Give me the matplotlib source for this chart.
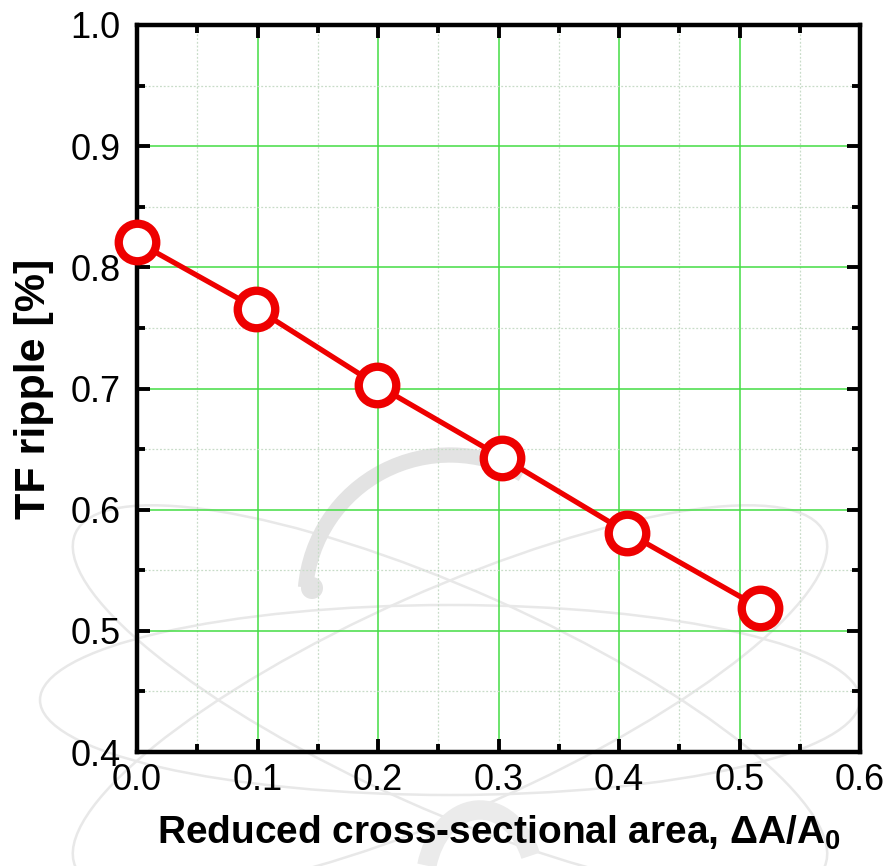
import matplotlib
matplotlib.use("Agg")
import matplotlib.pyplot as plt
from matplotlib.patches import Ellipse, Arc, Circle
from matplotlib.ticker import MultipleLocator

# Data
area_reduction = [0.0, 0.099, 0.199, 0.303, 0.407, 0.517]
tf_ripple = [0.821, 0.766, 0.703, 0.643, 0.581, 0.519]

x_ticks = [0.0, 0.1, 0.2, 0.3, 0.4, 0.5, 0.6]
y_ticks = [0.4, 0.5, 0.6, 0.7, 0.8, 0.9, 1.0]

plt.rcParams['font.family'] = ['Liberation Sans', 'DejaVu Sans']
plt.rcParams['mathtext.fontset'] = 'custom'
plt.rcParams['mathtext.rm'] = 'Liberation Sans'
plt.rcParams['mathtext.bf'] = 'Liberation Sans:bold'

fig = plt.figure(figsize=(8.9, 8.66), dpi=100)

# faint background emblem (pixel-space overlay)
bg = fig.add_axes([0, 0, 1, 1], zorder=0)
bg.set_xlim(0, 890)
bg.set_ylim(866, 0)
bg.axis('off')
wm = '#e8e8e8'
for ang, h in [(0, 190), (-24, 220), (24, 220)]:
    bg.add_patch(Ellipse((450, 700), 820, h, angle=ang, fill=False,
                         edgecolor=wm, lw=1.8))
bg.add_patch(Arc((450, 600), 290, 290, angle=0, theta1=185, theta2=300,
                 edgecolor='#e3e3e3', lw=11))
bg.add_patch(Circle((312, 588), 11, color='#e3e3e3', lw=0))
bg.add_patch(Arc((480, 885), 110, 150, angle=0, theta1=200, theta2=330,
                 edgecolor='#ebebeb', lw=14))

ax = fig.add_axes([137/890, 1-752/866, (860-137)/890, (752-25)/866], zorder=1)
ax.set_facecolor('none')

ax.plot(area_reduction, tf_ripple, color='#ee0000', lw=3.8, zorder=3,
        marker='o', markersize=27, markerfacecolor='white',
        markeredgecolor='#ee0000', markeredgewidth=6, clip_on=False)

ax.set_xlim(0, 0.6)
ax.set_ylim(0.4, 1.0)
ax.set_xticks(x_ticks)
ax.set_yticks(y_ticks)
ax.set_xticklabels([f"{v:.1f}" for v in x_ticks])
ax.set_yticklabels([f"{v:.1f}" for v in y_ticks])
ax.xaxis.set_minor_locator(MultipleLocator(0.05))
ax.yaxis.set_minor_locator(MultipleLocator(0.05))

ax.grid(True, which='major', color='#44dd44', lw=1.1, zorder=0)
ax.grid(True, which='minor', color='#c8dcc8', lw=0.9, ls=(0, (1.5, 1.5)), zorder=0)
ax.set_axisbelow(True)

for s in ax.spines.values():
    s.set_linewidth(3.2)
ax.tick_params(which='both', direction='in', top=True, right=True,
               labelsize=26, width=2.8)
ax.tick_params(which='major', length=9.5)
ax.tick_params(axis='x', which='major', pad=8)
ax.tick_params(axis='y', which='major', pad=12)
ax.tick_params(which='minor', length=5.5)

ax.set_xlabel(r"Reduced cross-sectional area, $\mathregular{\Delta A/A_0}$",
              fontsize=28, fontweight='bold', labelpad=11)
ax.set_ylabel("TF ripple [%]", fontsize=31, fontweight='bold', labelpad=12)

fig.savefig("out.png", dpi=100)
